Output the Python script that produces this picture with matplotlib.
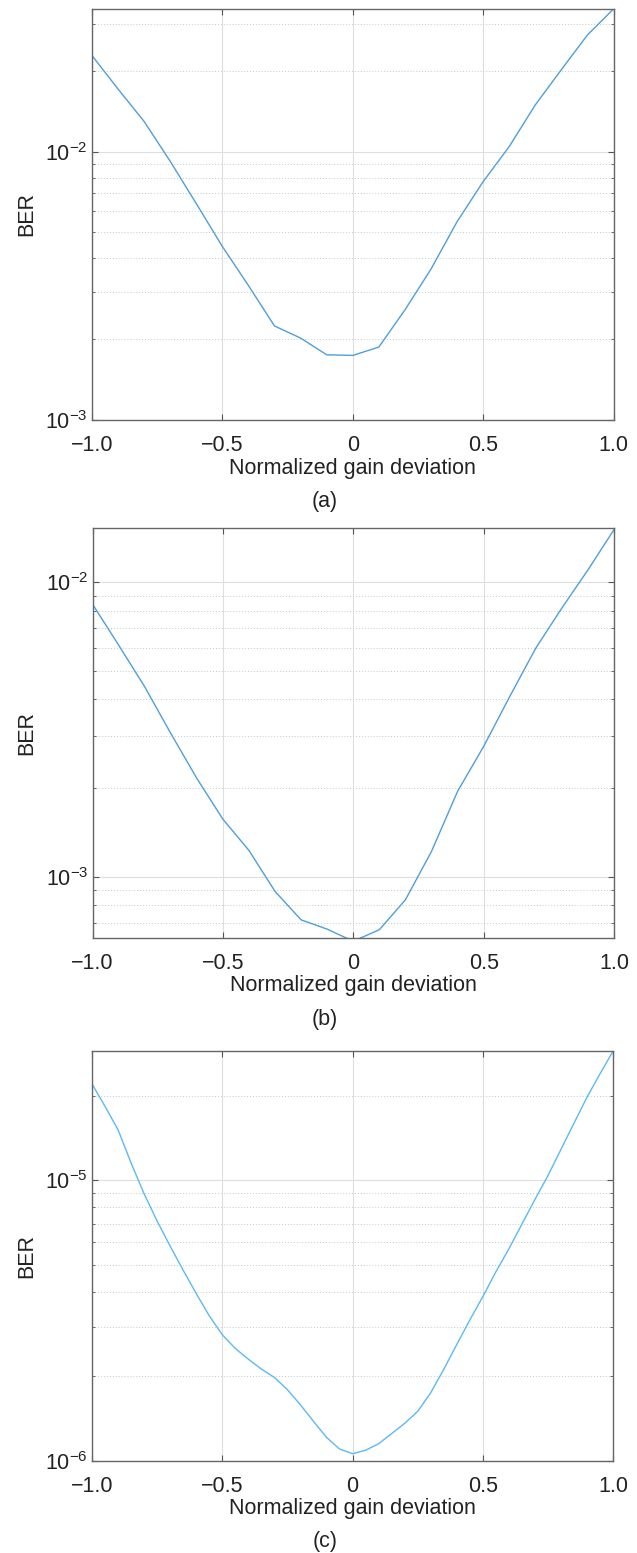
import matplotlib
matplotlib.use("Agg")
import matplotlib.pyplot as plt
from matplotlib.ticker import LogLocator, NullFormatter, FixedLocator, FixedFormatter

plt.rcParams['font.family'] = ['Liberation Sans', 'DejaVu Sans']
plt.rcParams['mathtext.fontset'] = 'custom'
plt.rcParams['mathtext.rm'] = 'Liberation Sans'
plt.rcParams['mathtext.it'] = 'Liberation Sans:italic'
plt.rcParams['axes.unicode_minus'] = True

# gain deviation steps for (a) and (b)
gain = [-1.0, -0.9, -0.8, -0.7, -0.6, -0.5, -0.4, -0.3, -0.2, -0.1,
        0.0, 0.1, 0.2, 0.3, 0.4, 0.5, 0.6, 0.7, 0.8, 0.9, 1.0]

# BER curves
ber_a = [0.0228, 0.0171, 0.01295, 0.0092, 0.0064, 0.00443, 0.00317, 0.00224, 0.00202, 0.00175,
         0.00174, 0.00187, 0.00257, 0.00365, 0.00548, 0.00773, 0.01044, 0.01493, 0.0202, 0.0272, 0.034]
ber_b = [0.00842, 0.00612, 0.00442, 0.00307, 0.00216, 0.00157, 0.00123, 0.000893, 0.000715, 0.000665,
         0.000605, 0.000662, 0.000836, 0.00122, 0.00195, 0.00277, 0.00409, 0.00597, 0.00817, 0.0110, 0.01507]

# (c) is sampled on a finer grid
gain_c = [-1.0, -0.95, -0.9, -0.85, -0.8, -0.75, -0.7, -0.65, -0.6, -0.55, -0.5,
          -0.45, -0.4, -0.35, -0.3, -0.25, -0.2, -0.15, -0.1, -0.05, 0.0,
          0.05, 0.1, 0.15, 0.2, 0.25, 0.3, 0.35, 0.4, 0.45, 0.5,
          0.55, 0.6, 0.65, 0.7, 0.75, 0.8, 0.85, 0.9, 0.95, 1.0]
ber_c = [2.2e-5, 1.83e-5, 1.51e-5, 1.15e-5, 8.93e-6, 7.14e-6, 5.81e-6, 4.77e-6, 3.94e-6, 3.28e-6, 2.81e-6,
         2.51e-6, 2.30e-6, 2.12e-6, 1.98e-6, 1.79e-6, 1.58e-6, 1.38e-6, 1.21e-6, 1.10e-6, 1.059e-6,
         1.09e-6, 1.15e-6, 1.25e-6, 1.36e-6, 1.50e-6, 1.75e-6, 2.12e-6, 2.60e-6, 3.18e-6, 3.85e-6,
         4.72e-6, 5.70e-6, 6.98e-6, 8.55e-6, 1.04e-5, 1.29e-5, 1.60e-5, 1.98e-5, 2.40e-5, 2.89e-5]

xticks = [-1.0, -0.5, 0.0, 0.5, 1.0]
xticklabels = ['\u22121.0', '\u22120.5', '0', '0.5', '1.0']

W, H = 637, 1553
FS = 15.5
fig = plt.figure(figsize=(W / 100, H / 100), dpi=100)

# (left, top, right, bottom) in pixels, ylim, x, y, colour, tag, tag y
panels = [
    ((92, 9, 613.5, 420), (1e-3, 0.034), gain, ber_a, '#4f9fd8', '(a)', 501.7),
    ((92.5, 527.7, 614, 937.7), (6.22e-4, 0.0153), gain, ber_b, '#4f9fd8', '(b)', 1019),
    ((92, 1050.7, 613.3, 1460.7), (1e-6, 2.89e-5), gain_c, ber_c, '#5db9f3', '(c)', 1541),
]

for (l, t, r, b), ylim, gx, ber, col, tag, ty in panels:
    ax = fig.add_axes([l / W, 1 - b / H, (r - l) / W, (b - t) / H])
    ax.plot(gx, ber, color=col, lw=1.0)
    ax.set_yscale('log')
    ax.set_xlim(-1, 1)
    ax.set_ylim(*ylim)
    ax.xaxis.set_major_locator(FixedLocator(xticks))
    ax.xaxis.set_major_formatter(FixedFormatter(xticklabels))
    ax.yaxis.set_major_locator(LogLocator(base=10, numticks=10))
    ax.yaxis.set_minor_locator(LogLocator(base=10, subs=range(2, 10), numticks=20))
    ax.yaxis.set_minor_formatter(NullFormatter())
    ax.grid(True, which='major', color='#dedede', lw=0.8, ls='-')
    ax.grid(True, which='minor', axis='y', color='#c8c8c8', lw=0.7, ls=(0, (1, 2)))
    ax.set_axisbelow(True)
    ax.tick_params(which='both', direction='in', top=True, right=True,
                   color='#555555', labelsize=FS, labelcolor='#222222')
    ax.tick_params(which='major', length=4, width=0.8)
    ax.tick_params(axis='x', which='major', pad=11)
    ax.tick_params(axis='y', which='major', pad=3)
    ax.tick_params(which='minor', length=2.5, width=0.6)
    for s in ax.spines.values():
        s.set_color('#666666')
        s.set_linewidth(1.0)
    ax.set_xlabel('Normalized gain deviation', fontsize=FS, color='#222222', labelpad=1)
    ax.set_ylabel('BER', fontsize=FS, color='#222222', labelpad=6)
    fig.text(325 / W, 1 - ty / H, tag, fontsize=FS, color='#222222', ha='center', va='center')

fig.savefig('out.png', dpi=100)
